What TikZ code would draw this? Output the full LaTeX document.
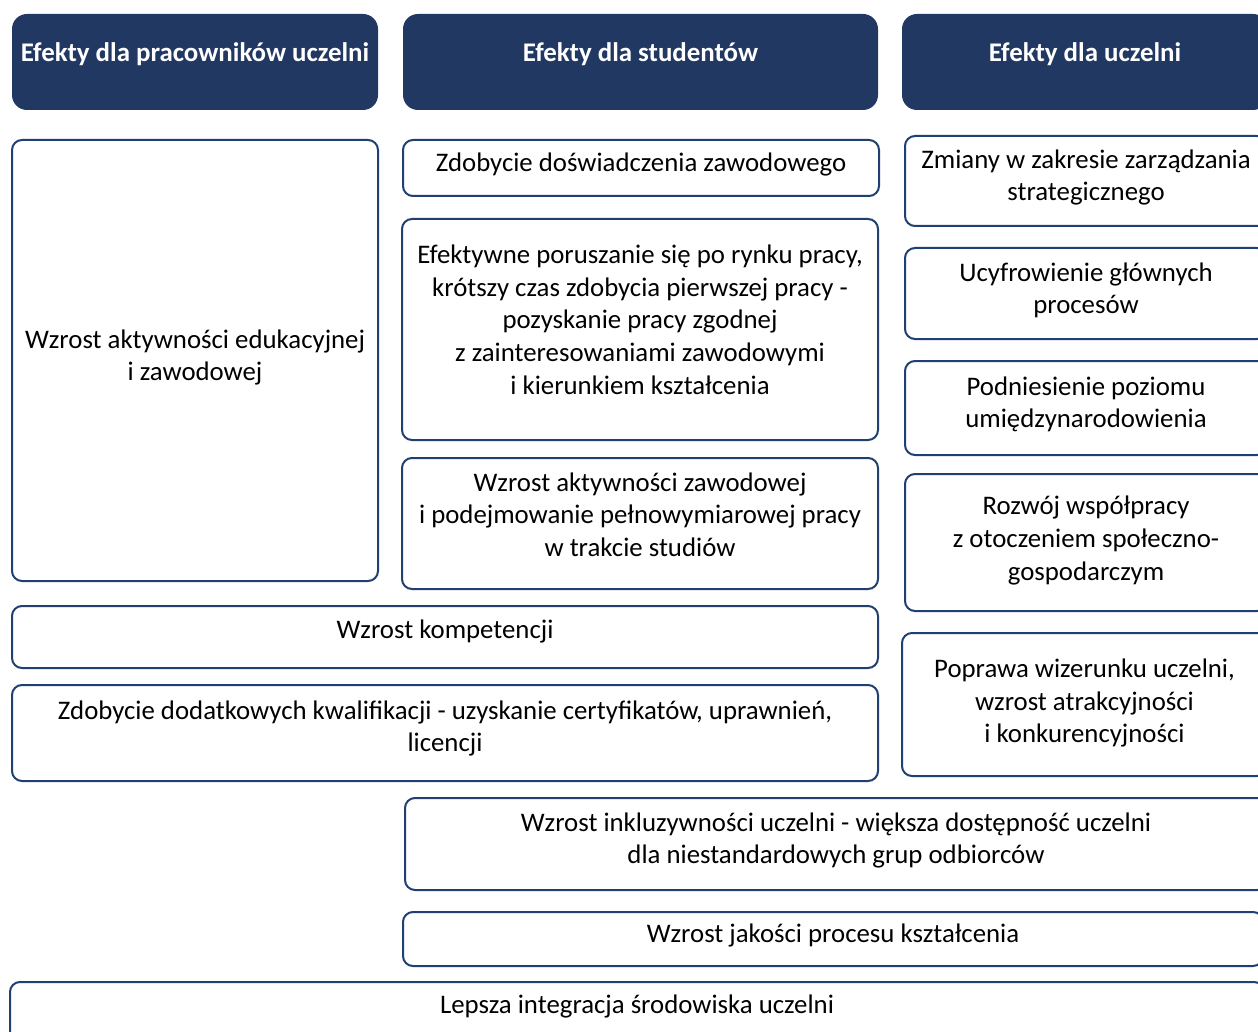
\documentclass[tikz,border=0pt]{standalone}
\usepackage{fontspec}
\setmainfont{Carlito}
\definecolor{navy}{RGB}{33,56,99}
\definecolor{frameblue}{RGB}{31,64,112}

\begin{document}
\begin{tikzpicture}[x=1pt, y=-1pt]
  \tikzstyle{head} = [rectangle, rounded corners=15pt, fill=navy, inner sep=0pt]
  \tikzstyle{effect} = [rectangle, rounded corners=10pt, draw=frameblue, line width=2pt, fill=white, inner sep=0pt]
  \tikzstyle{headtext} = [text=white, font=\bfseries\fontsize{26.9}{32.7}\selectfont, align=center, yshift=-2pt]
  \tikzstyle{efftext} = [font=\fontsize{26.8}{32.7}\selectfont, align=center, yshift=-2pt]

  \useasboundingbox (0,0) rectangle (1258,1032);
  \clip (0,0) rectangle (1258,1032);

  % column headers
  \node [head, minimum width=366pt, minimum height=96pt] (hstaff) at (195,62) {};
  \node [head, minimum width=475pt, minimum height=96pt] (hstud) at (640.5,62) {};
  \node [head, minimum width=366pt, minimum height=96pt] (huni) at (1085,62) {};
  \node [headtext] (hstaff-t) at ([yshift=10pt]hstaff.center) {Efekty dla pracowników uczelni};
  \node [headtext] (hstud-t) at ([yshift=10pt]hstud.center) {Efekty dla studentów};
  \node [headtext] (huni-t) at ([yshift=10pt]huni.center) {Efekty dla uczelni};

  % staff
  \node [effect, minimum width=366pt, minimum height=441pt] (activity) at (195,360.5) {};
  \node [efftext] (activity-t) at (195,355.5) {Wzrost aktywności edukacyjnej\\i zawodowej};

  % students
  \node [effect, minimum width=476pt, minimum height=56pt] (experience) at (641,168) {};
  \node [efftext] (experience-t) at (641,163) {Zdobycie doświadczenia zawodowego};
  \node [effect, minimum width=476pt, minimum height=221pt] (market) at (640,329.5) {};
  \node [efftext] (market-t) at (640,317.5) {Efektywne poruszanie się po rynku pracy,\\krótszy czas zdobycia pierwszej pracy -\\pozyskanie pracy zgodnej\\z zainteresowaniami zawodowymi\\i kierunkiem kształcenia};
  \node [effect, minimum width=476pt, minimum height=131pt] (fulltime) at (640,523.5) {};
  \node [efftext] (fulltime-t) at (640,512.5) {Wzrost aktywności zawodowej\\i podejmowanie pełnowymiarowej pracy\\w trakcie studiów};

  % university
  \node [effect, minimum width=362pt, minimum height=90pt] (strategy) at (1086,181) {};
  \node [efftext] (strategy-t) at (1086,175.5) {Zmiany w zakresie zarządzania\\strategicznego};
  \node [effect, minimum width=362pt, minimum height=91pt] (digital) at (1086,293.5) {};
  \node [efftext] (digital-t) at (1086,288.5) {Ucyfrowienie głównych\\procesów};
  \node [effect, minimum width=362pt, minimum height=94pt] (intl) at (1086,408) {};
  \node [efftext] (intl-t) at (1086,402.5) {Podniesienie poziomu\\umiędzynarodowienia};
  \node [effect, minimum width=362pt, minimum height=137pt] (coop) at (1086,542.5) {};
  \node [efftext] (coop-t) at (1086,538.5) {Rozwój współpracy\\z otoczeniem społeczno-\\gospodarczym};
  \node [effect, minimum width=365pt, minimum height=143pt] (image) at (1084.5,704.5) {};
  \node [efftext] (image-t) at (1084.5,701) {Poprawa wizerunku uczelni,\\wzrost atrakcyjności\\i konkurencyjności};

  % shared effects
  \node [effect, minimum width=866pt, minimum height=62pt] (skills) at (445,637) {};
  \node [efftext] (skills-t) at (445,629) {Wzrost kompetencji};
  \node [effect, minimum width=866pt, minimum height=96pt] (certs) at (445,733) {};
  \node [efftext] (certs-t) at (445,726.5) {Zdobycie dodatkowych kwalifikacji - uzyskanie certyfikatów, uprawnień,\\licencji};
  \node [effect, minimum width=862pt, minimum height=92pt] (inclusion) at (836,844) {};
  \node [efftext] (inclusion-t) at (836,838.5) {Wzrost inkluzywności uczelni - większa dostępność uczelni\\dla niestandardowych grup odbiorców};
  \node [effect, minimum width=860pt, minimum height=54pt] (teaching) at (833,939) {};
  \node [efftext] (teaching-t) at (833,933) {Wzrost jakości procesu kształcenia};
  \node [effect, minimum width=1254pt, minimum height=60pt] (integration) at (637,1012) {};
  \node [efftext] (integration-t) at (637,1004) {Lepsza integracja środowiska uczelni};
\end{tikzpicture}
\end{document}
